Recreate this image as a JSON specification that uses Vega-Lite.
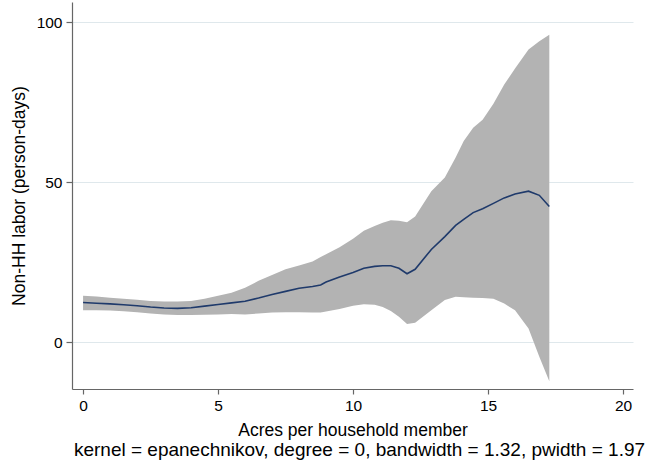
{
  "$schema": "https://vega.github.io/schema/vega-lite/v6.json",
  "width": 561,
  "height": 387,
  "autosize": "none",
  "padding": {"left": 72, "top": 2, "right": 15, "bottom": 77},
  "background": "white",
  "title": {
    "text": "kernel = epanechnikov, degree = 0, bandwidth = 1.32, pwidth = 1.97",
    "orient": "bottom",
    "anchor": "middle",
    "dx": 7,
    "offset": 2,
    "font": "Liberation Sans",
    "fontSize": 19,
    "fontWeight": "normal",
    "color": "black"
  },
  "data": {
    "values": [
      {"x": 0, "fit": 12.4, "lo": 10.0, "hi": 14.5},
      {"x": 0.5, "fit": 12.2, "lo": 10.0, "hi": 14.3},
      {"x": 1.0, "fit": 12.0, "lo": 9.9, "hi": 13.9},
      {"x": 1.5, "fit": 11.7, "lo": 9.7, "hi": 13.6},
      {"x": 2.0, "fit": 11.4, "lo": 9.4, "hi": 13.3},
      {"x": 2.5, "fit": 11.0, "lo": 9.0, "hi": 12.9},
      {"x": 3.0, "fit": 10.7, "lo": 8.7, "hi": 12.7},
      {"x": 3.5, "fit": 10.6, "lo": 8.5, "hi": 12.7},
      {"x": 4.0, "fit": 10.8, "lo": 8.5, "hi": 12.9},
      {"x": 4.5, "fit": 11.3, "lo": 8.6, "hi": 13.6},
      {"x": 5.0, "fit": 11.8, "lo": 8.7, "hi": 14.5},
      {"x": 5.5, "fit": 12.3, "lo": 8.8, "hi": 15.5},
      {"x": 6.0, "fit": 12.8, "lo": 8.7, "hi": 17.0},
      {"x": 6.5, "fit": 13.8, "lo": 9.0, "hi": 19.2},
      {"x": 7.0, "fit": 14.9, "lo": 9.3, "hi": 21.0},
      {"x": 7.5, "fit": 15.9, "lo": 9.4, "hi": 22.8},
      {"x": 8.0, "fit": 16.9, "lo": 9.4, "hi": 24.0},
      {"x": 8.5, "fit": 17.4, "lo": 9.3, "hi": 25.2},
      {"x": 8.8, "fit": 17.9, "lo": 9.3, "hi": 26.6},
      {"x": 9.0, "fit": 18.8, "lo": 9.6, "hi": 27.5},
      {"x": 9.5, "fit": 20.4, "lo": 10.4, "hi": 29.7},
      {"x": 10.0, "fit": 21.8, "lo": 11.4, "hi": 32.3},
      {"x": 10.4, "fit": 23.1, "lo": 11.9, "hi": 34.8},
      {"x": 10.8, "fit": 23.7, "lo": 11.7, "hi": 36.3},
      {"x": 11.1, "fit": 23.9, "lo": 11.0, "hi": 37.3},
      {"x": 11.4, "fit": 23.9, "lo": 9.8, "hi": 38.1},
      {"x": 11.7, "fit": 23.1, "lo": 8.0, "hi": 38.0},
      {"x": 12.0, "fit": 21.4, "lo": 5.7, "hi": 37.5},
      {"x": 12.3, "fit": 22.8, "lo": 6.1, "hi": 39.3},
      {"x": 12.9, "fit": 29.0, "lo": 10.0, "hi": 47.2},
      {"x": 13.4, "fit": 33.0, "lo": 13.2, "hi": 51.5},
      {"x": 13.8, "fit": 36.5, "lo": 14.2, "hi": 57.7},
      {"x": 14.1, "fit": 38.4, "lo": 14.1, "hi": 62.9},
      {"x": 14.45, "fit": 40.5, "lo": 13.9, "hi": 67.0},
      {"x": 14.8, "fit": 41.7, "lo": 13.8, "hi": 69.5},
      {"x": 15.2, "fit": 43.4, "lo": 13.6, "hi": 74.5},
      {"x": 15.6, "fit": 45.1, "lo": 12.1, "hi": 80.5},
      {"x": 16.0, "fit": 46.3, "lo": 10.0, "hi": 85.5},
      {"x": 16.5, "fit": 47.2, "lo": 4.3, "hi": 91.5},
      {"x": 16.9, "fit": 45.9, "lo": -4.5, "hi": 94.0},
      {"x": 17.27, "fit": 42.4, "lo": -12.2, "hi": 96.1}
    ]
  },
  "encoding": {
    "x": {
      "field": "x",
      "type": "quantitative",
      "scale": {"domain": [-0.41, 20.37], "nice": false, "zero": false},
      "axis": {
        "title": "Acres per household member",
        "values": [0, 5, 10, 15, 20],
        "grid": false,
        "tickSize": 5,
        "labelPadding": 4,
        "titlePadding": 8,
        "labelAngle": 0
      }
    }
  },
  "layer": [
    {
      "mark": {"type": "area", "color": "#b3b3b3", "opacity": 1},
      "encoding": {
        "y": {
          "field": "lo",
          "type": "quantitative",
          "scale": {"domain": [-14.6, 106.3], "nice": false, "zero": false},
          "axis": {
            "title": "Non-HH labor (person-days)",
            "values": [0, 50, 100],
            "grid": true,
            "tickSize": 6,
            "labelPadding": 4,
            "titlePadding": 8,
            "labelAngle": 0
          }
        },
        "y2": {"field": "hi"}
      }
    },
    {
      "mark": {"type": "line", "color": "#1f3a6b", "strokeWidth": 1.6},
      "encoding": {
        "y": {"field": "fit", "type": "quantitative"}
      }
    }
  ],
  "config": {
    "view": {"stroke": null},
    "font": "Liberation Sans",
    "axis": {
      "domainColor": "#666666",
      "domainWidth": 1.2,
      "tickColor": "#666666",
      "tickWidth": 1.2,
      "gridColor": "#dfe8ec",
      "gridWidth": 1,
      "labelColor": "black",
      "labelFont": "Liberation Sans",
      "labelFontSize": 15.5,
      "titleFont": "Liberation Sans",
      "titleFontSize": 17.5,
      "titleFontWeight": "normal",
      "titleColor": "black"
    }
  }
}
